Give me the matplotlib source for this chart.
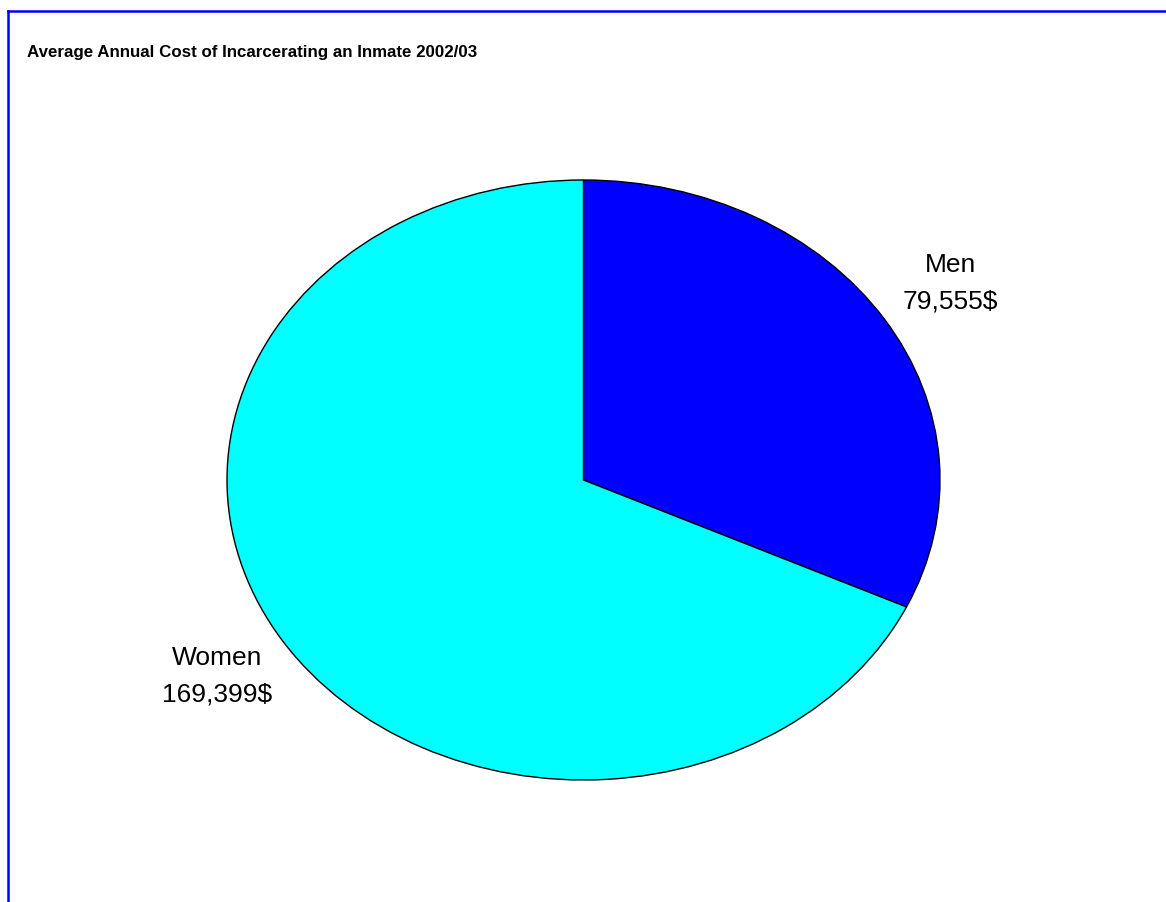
import matplotlib.pyplot as plt
from matplotlib.lines import Line2D

groups = ['Men', 'Women']
costs = [79555, 169399]
colours = ['#0000FF', '#00FFFF']

fig = plt.figure(figsize=(11.66, 9.02), dpi=100)
fig.patch.set_facecolor('white')

# blue frame (runs off the right and bottom edges)
fig.add_artist(Line2D([8 / 1166, 1.01], [1 - 11 / 902] * 2, color='#0000FF',
                      lw=1.8, transform=fig.transFigure))
fig.add_artist(Line2D([8 / 1166] * 2, [-0.01, 1 - 11 / 902], color='#0000FF',
                      lw=1.8, transform=fig.transFigure))

fig.text(27 / 1166, 1 - 52 / 902,
         'Average Annual Cost of Incarcerating an Inmate 2002/03',
         fontsize=12.2, fontweight='bold', family=['Liberation Sans', 'DejaVu Sans'],
         ha='left', va='center')

ax = fig.add_axes([227 / 1166, 122 / 902, 713 / 1166, 600 / 902])
labels = [f'{g}\n{v:,}$' for g, v in zip(groups, costs)]
wedges, texts = ax.pie(costs, labels=labels, colors=colours, startangle=90,
                       counterclock=False, labeldistance=1.22,
                       wedgeprops=dict(edgecolor='black', linewidth=1.0),
                       textprops=dict(fontsize=19,
                                      family=['Liberation Sans', 'DejaVu Sans']))
for t in texts:
    t.set_horizontalalignment('center')
    t.set_verticalalignment('center')
    t.set_multialignment('center')
    t.set_linespacing(1.64)
ax.set_aspect('auto')
ax.set_xlim(-1, 1)
ax.set_ylim(-1, 1)
ax.axis('off')

fig.savefig('out.png', dpi=100, facecolor='white')
